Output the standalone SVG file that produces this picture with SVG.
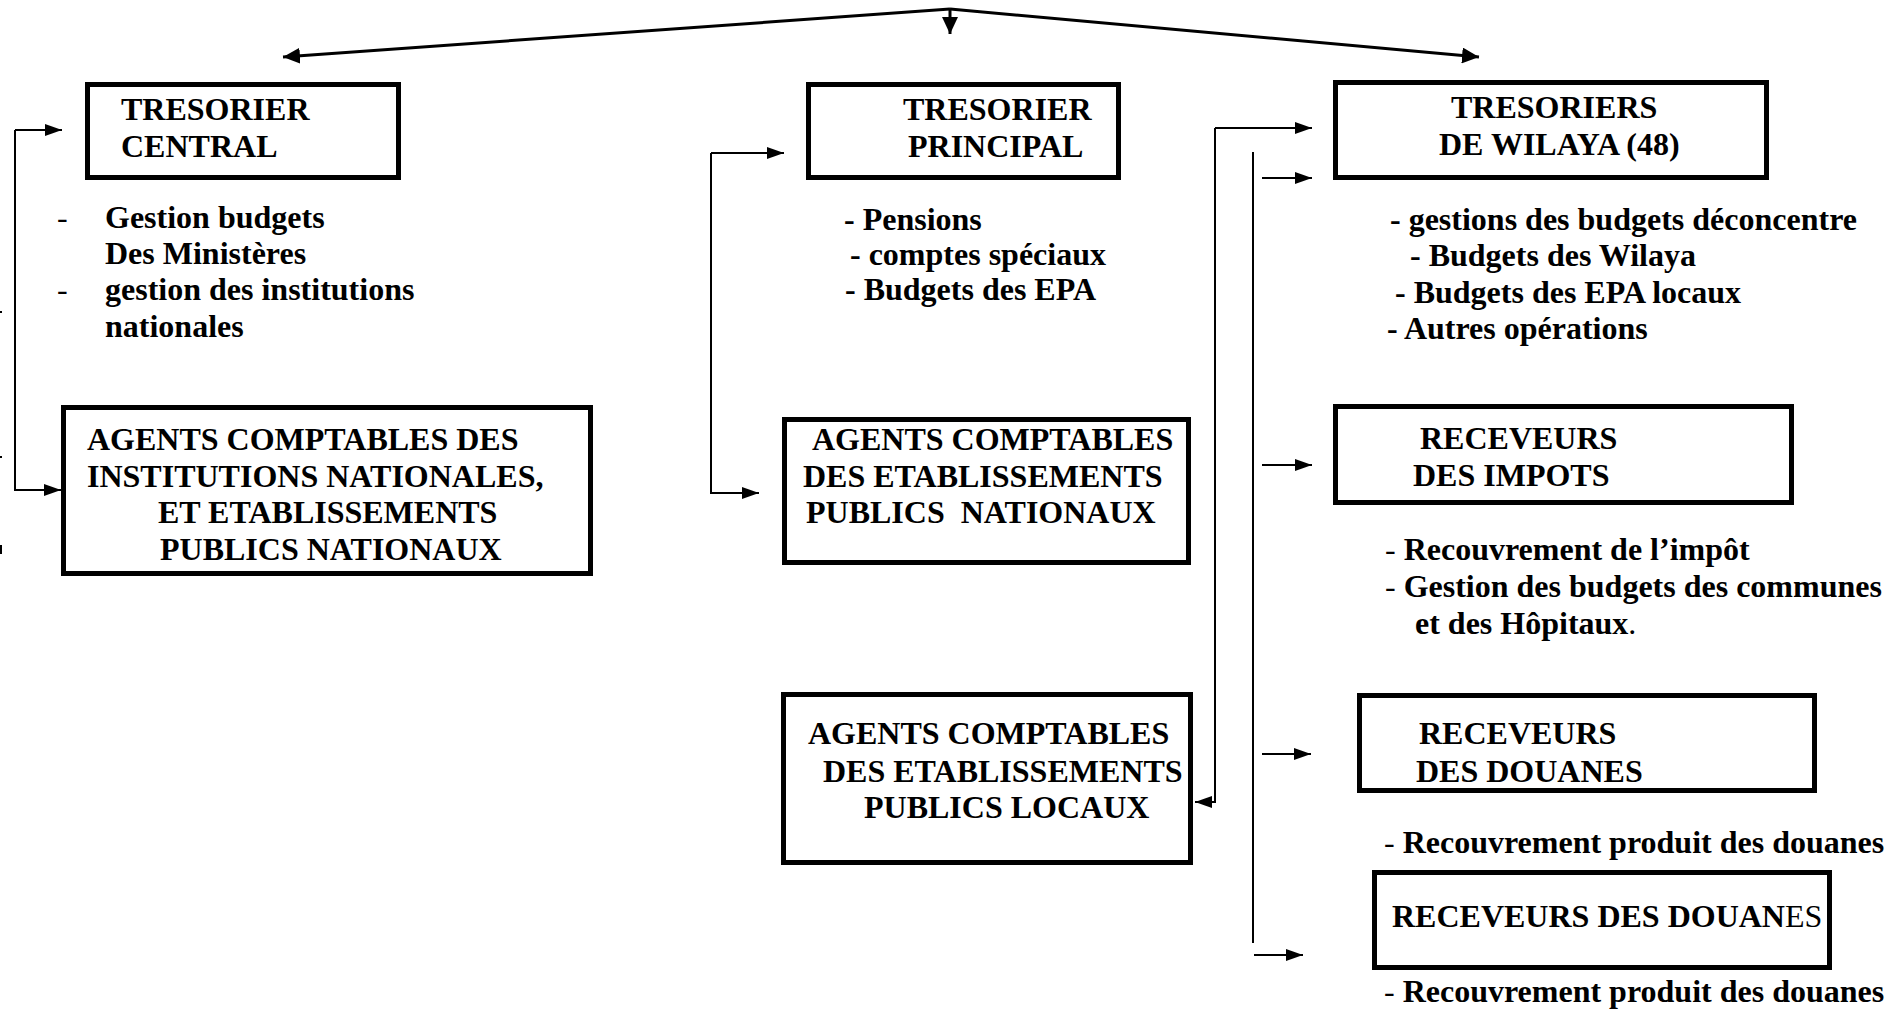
<svg xmlns="http://www.w3.org/2000/svg" width="1889" height="1009" viewBox="0 0 1889 1009">
<style>
  text { font-family: "Liberation Serif", "Times New Roman", serif; font-size: 32px; font-weight: bold; fill: #000; }
  .reg { font-weight: normal; }
  .box { fill: #fff; stroke: #000; stroke-width: 5; }
  .conn { fill: none; stroke: #000; stroke-width: 2; }
  .top { fill: none; stroke: #000; stroke-width: 3; }
</style>
<defs>
  <marker id="arr" markerUnits="userSpaceOnUse" markerWidth="17" markerHeight="12" refX="17" refY="6" orient="auto">
    <path d="M0,0 L17,6 L0,12 z" fill="#000"/>
  </marker>
  <marker id="arrBig" markerUnits="userSpaceOnUse" markerWidth="17" markerHeight="16" refX="17" refY="8" orient="auto">
    <path d="M0,0 L17,8 L0,16 z" fill="#000"/>
  </marker>
</defs>
<rect width="1889" height="1009" fill="#fff"/>

<g id="connectors">
  <path class="top" d="M950,9 L283,57" marker-end="url(#arrBig)"/>
  <path class="top" d="M950,9 L1479,57" marker-end="url(#arrBig)"/>
  <path class="top" d="M950,9 L950,34" marker-end="url(#arrBig)"/>

  <path class="conn" d="M15,130 H62" marker-end="url(#arr)"/>
  <path class="conn" d="M15,130 V490 H61" marker-end="url(#arr)"/>

  <path class="conn" d="M711,153 H784" marker-end="url(#arr)"/>
  <path class="conn" d="M711,153 V493 H759" marker-end="url(#arr)"/>

  <path class="conn" d="M1215,128 H1312" marker-end="url(#arr)"/>
  <path class="conn" d="M1215,128 V802 H1195" marker-end="url(#arr)"/>

  <path class="conn" d="M1253,152 V943"/>
  <path class="conn" d="M1262,178 H1312" marker-end="url(#arr)"/>
  <path class="conn" d="M1262,465 H1312" marker-end="url(#arr)"/>
  <path class="conn" d="M1262,754 H1311" marker-end="url(#arr)"/>
  <path class="conn" d="M1254,955 H1303" marker-end="url(#arr)"/>
</g>

<g id="edge-marks">
  <rect x="0" y="311" width="2" height="2" fill="#000"/>
  <rect x="0" y="456" width="2" height="2" fill="#000"/>
  <rect x="0" y="545" width="2" height="9" fill="#000"/>
</g>

<g id="tresorier-central">
  <rect class="box" x="87.5" y="84.5" width="311" height="93"/>
  <text x="121" y="120">TRESORIER</text>
  <text x="121" y="157">CENTRAL</text>
</g>

<g id="tresorier-central-tasks">
  <text class="reg" x="57" y="228">-</text>
  <text x="105" y="228">Gestion budgets</text>
  <text x="105" y="264">Des Ministères</text>
  <text class="reg" x="57" y="300">-</text>
  <text x="105" y="300">gestion des institutions</text>
  <text x="105" y="337">nationales</text>
</g>

<g id="agents-institutions">
  <rect class="box" x="63.5" y="407.5" width="527" height="166"/>
  <text x="87" y="450">AGENTS COMPTABLES DES</text>
  <text x="87" y="487">INSTITUTIONS NATIONALES,</text>
  <text x="158" y="523">ET ETABLISSEMENTS</text>
  <text x="160" y="560">PUBLICS NATIONAUX</text>
</g>

<g id="tresorier-principal">
  <rect class="box" x="808.5" y="84.5" width="310" height="93"/>
  <text x="903" y="120">TRESORIER</text>
  <text x="908" y="157">PRINCIPAL</text>
</g>

<g id="tresorier-principal-tasks">
  <text x="844" y="230">- Pensions</text>
  <text x="850" y="265">- comptes spéciaux</text>
  <text x="845" y="300">- Budgets des EPA</text>
</g>

<g id="agents-epn">
  <rect class="box" x="784.5" y="419.5" width="404" height="143"/>
  <text x="812" y="450">AGENTS COMPTABLES</text>
  <text x="803" y="487">DES ETABLISSEMENTS</text>
  <text x="806" y="523" xml:space="preserve">PUBLICS  NATIONAUX</text>
</g>

<g id="agents-locaux">
  <rect class="box" x="783.5" y="694.5" width="407" height="168"/>
  <text x="808" y="744">AGENTS COMPTABLES</text>
  <text x="823" y="782">DES ETABLISSEMENTS</text>
  <text x="864" y="818">PUBLICS LOCAUX</text>
</g>

<g id="tresoriers-wilaya">
  <rect class="box" x="1335.5" y="82.5" width="431" height="95"/>
  <text x="1451" y="118">TRESORIERS</text>
  <text x="1439" y="155">DE WILAYA (48)</text>
</g>

<g id="tresoriers-wilaya-tasks">
  <text x="1390" y="230">- gestions des budgets déconcentre</text>
  <text x="1410" y="266">- Budgets des Wilaya</text>
  <text x="1395" y="303">- Budgets des EPA locaux</text>
  <text x="1387" y="339">- Autres opérations</text>
</g>

<g id="receveurs-impots">
  <rect class="box" x="1335.5" y="406.5" width="456" height="96"/>
  <text x="1420" y="449">RECEVEURS</text>
  <text x="1413" y="486">DES IMPOTS</text>
</g>

<g id="receveurs-impots-tasks">
  <text x="1385" y="560"><tspan class="reg">- </tspan>Recouvrement de l’impôt</text>
  <text x="1385" y="597"><tspan class="reg">- </tspan>Gestion des budgets des communes</text>
  <text x="1415" y="634">et des Hôpitaux<tspan class="reg">.</tspan></text>
</g>

<g id="receveurs-douanes-1">
  <rect class="box" x="1359.5" y="695.5" width="455" height="95"/>
  <text x="1419" y="744">RECEVEURS</text>
  <text x="1416" y="782">DES DOUANES</text>
</g>

<g id="receveurs-douanes-1-tasks">
  <text x="1384" y="853"><tspan class="reg">- </tspan>Recouvrement produit des douanes</text>
</g>

<g id="receveurs-douanes-2">
  <rect class="box" x="1374.5" y="872.5" width="455" height="95"/>
  <text x="1392" y="927">RECEVEURS DES DOUAN<tspan class="reg">ES</tspan></text>
</g>

<g id="receveurs-douanes-2-tasks">
  <text x="1384" y="1002"><tspan class="reg">- </tspan>Recouvrement produit des douanes</text>
</g>
</svg>
